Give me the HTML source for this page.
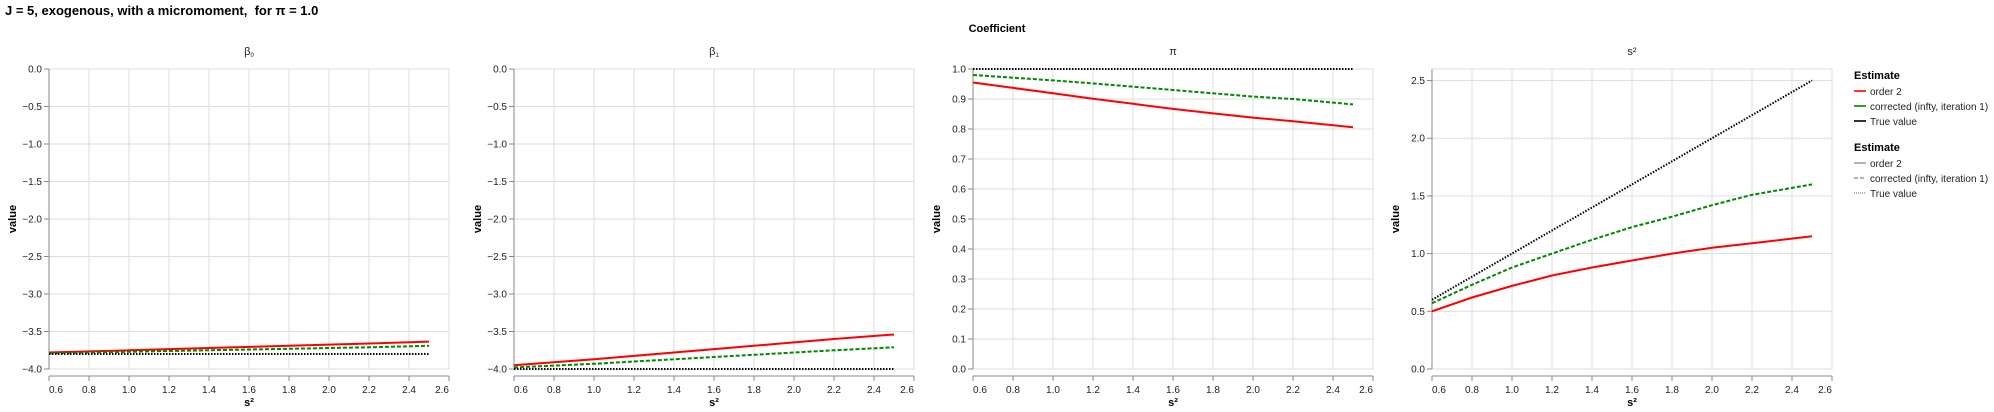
<!DOCTYPE html>
<html><head><meta charset="utf-8"><style>
body{margin:0;background:#fff;}
svg{display:block;font-family:"Liberation Sans",sans-serif;}
</style></head><body>
<svg id="c" width="1994" height="412" xmlns="http://www.w3.org/2000/svg">
<text x="5" y="15" font-size="13" font-weight="bold">J = 5, exogenous, with a micromoment,&#160; for π = 1.0</text>
<text x="997" y="32" font-size="11" font-weight="bold" text-anchor="middle">Coefficient</text>
<g id="legend">
<text x="1854" y="79" font-size="11" font-weight="bold">Estimate</text>
<line x1="1854" x2="1866" y1="91" y2="91" stroke="#f33" stroke-width="2"/>
<text x="1870" y="95" font-size="10" fill="#222">order 2</text>
<line x1="1854" x2="1866" y1="106" y2="106" stroke="#393" stroke-width="2"/>
<text x="1870" y="110" font-size="10" fill="#222">corrected (infty, iteration 1)</text>
<line x1="1854" x2="1866" y1="121" y2="121" stroke="#333" stroke-width="2"/>
<text x="1870" y="125" font-size="10" fill="#222">True value</text>
<text x="1854" y="151" font-size="11" font-weight="bold">Estimate</text>
<line x1="1854" x2="1866" y1="163" y2="163" stroke="#999" stroke-width="1.5"/>
<text x="1870" y="167" font-size="10" fill="#222">order 2</text>
<line x1="1854" x2="1866" y1="178" y2="178" stroke="#999" stroke-width="1.5" stroke-dasharray="4,2"/>
<text x="1870" y="182" font-size="10" fill="#222">corrected (infty, iteration 1)</text>
<line x1="1854" x2="1866" y1="193" y2="193" stroke="#999" stroke-width="1.5" stroke-dasharray="1,1"/>
<text x="1870" y="197" font-size="10" fill="#222">True value</text>
</g>
</svg>
<script>
const xs = [0.6,0.8,1.0,1.2,1.4,1.6,1.8,2.0,2.2,2.5];
const b0Order2 = [-3.78,-3.765,-3.75,-3.735,-3.72,-3.705,-3.69,-3.675,-3.66,-3.635];
const b0Corr = [-3.79,-3.78,-3.77,-3.76,-3.75,-3.74,-3.73,-3.72,-3.71,-3.69];
const b0True = [-3.8,-3.8,-3.8,-3.8,-3.8,-3.8,-3.8,-3.8,-3.8,-3.8];
const b1Order2 = [-3.95,-3.91,-3.87,-3.825,-3.78,-3.735,-3.69,-3.645,-3.6,-3.54];
const b1Corr = [-3.98,-3.955,-3.93,-3.9,-3.87,-3.84,-3.81,-3.78,-3.75,-3.71];
const b1True = [-4,-4,-4,-4,-4,-4,-4,-4,-4,-4];
const piOrder2 = [0.955,0.937,0.919,0.901,0.884,0.867,0.852,0.838,0.826,0.806];
const piCorr = [0.98,0.971,0.962,0.952,0.941,0.93,0.919,0.908,0.9,0.882];
const piTrue = [1,1,1,1,1,1,1,1,1,1];
const s2Order2 = [0.5,0.62,0.72,0.81,0.88,0.94,1.0,1.05,1.09,1.15];
const s2Corr = [0.57,0.73,0.88,1.0,1.12,1.23,1.32,1.42,1.51,1.6];
const s2True = [0.6,0.8,1.0,1.2,1.4,1.6,1.8,2.0,2.2,2.5];
const xTicks = [0.6,0.8,1.0,1.2,1.4,1.6,1.8,2.0,2.2,2.4,2.6];
const betaTicks = [0,-0.5,-1,-1.5,-2,-2.5,-3,-3.5,-4];
const piTicks = [0,0.1,0.2,0.3,0.4,0.5,0.6,0.7,0.8,0.9,1.0];
const s2Ticks = [0,0.5,1.0,1.5,2.0,2.5];

const NS='http://www.w3.org/2000/svg';
const svg=document.getElementById('c');
function mk(tag,attrs,parent){const e=document.createElementNS(NS,tag);for(const k in attrs)e.setAttribute(k,attrs[k]);(parent||svg).appendChild(e);return e;}
const panels=[
 {key:'beta0',title:'β',sub:'0',x0:49,dom:[-4,0],ticks:betaTicks,dec:1,series:[b0Order2,b0Corr,b0True]},
 {key:'beta1',title:'β',sub:'1',x0:514,dom:[-4,0],ticks:betaTicks,dec:1,series:[b1Order2,b1Corr,b1True]},
 {key:'pi',title:'π',sub:'',x0:973,dom:[0,1],ticks:piTicks,dec:1,series:[piOrder2,piCorr,piTrue]},
 {key:'s2',title:'s²',sub:'',x0:1432,dom:[0,2.6],ticks:s2Ticks,dec:1,series:[s2Order2,s2Corr,s2True]}
];
const W=400,Y0=69,H=300;
const styles=[{c:'#f00',d:'',w:2},{c:'#080',d:'4,2',w:2},{c:'#000',d:'1.5,1.5',w:2}];
const snames=['order2','corrected','true-value'];
panels.forEach(p=>{
 const g=mk('g',{});
 
 
 const xf=v=>p.x0+(v-0.6)/2.0*W;
 const yf=v=>Y0+H-(v-p.dom[0])/(p.dom[1]-p.dom[0])*H;
 xTicks.forEach(t=>{const l=mk('line',{x1:xf(t),x2:xf(t),y1:Y0,y2:Y0+H,stroke:'#ddd'},g);
  });
 p.ticks.forEach(t=>{const l=mk('line',{x1:p.x0,x2:p.x0+W,y1:yf(t),y2:yf(t),stroke:'#ddd'},g);
  });
 const fr=mk('rect',{x:p.x0,y:Y0,width:W,height:H,fill:'none',stroke:'#ddd'},g);
 
 const ya=mk('line',{x1:p.x0,x2:p.x0,y1:Y0,y2:Y0+H,stroke:'#888'},g);
 
 p.ticks.forEach(t=>{
  mk('line',{x1:p.x0-5,x2:p.x0,y1:yf(t),y2:yf(t),stroke:'#888'},g);
  const tx=mk('text',{x:p.x0-7,y:yf(t)+3.5,'font-size':10,'text-anchor':'end',fill:'#222'},g);
  tx.textContent=(t<0?'−':'')+Math.abs(t).toFixed(p.dec);
  
 });
 const yt=mk('text',{x:0,y:0,'font-size':11,'font-weight':'bold','text-anchor':'middle',transform:`translate(${p.x0-33},219) rotate(-90)`},g);
 yt.textContent='value';
 const xa=mk('line',{x1:p.x0,x2:p.x0+W,y1:376,y2:376,stroke:'#888'},g);
 
 xTicks.forEach((t,i)=>{
  mk('line',{x1:xf(t),x2:xf(t),y1:376,y2:381,stroke:'#888'},g);
  const anc=i==0?'start':(i==xTicks.length-1?'end':'middle');
  const tx=mk('text',{x:xf(t),y:393,'font-size':10,'text-anchor':anc,fill:'#222'},g);
  tx.textContent=t.toFixed(1);
  
 });
 const xt=mk('text',{x:p.x0+W/2,y:406,'font-size':11,'font-weight':'bold','text-anchor':'middle'},g);
 xt.textContent='s²';
 const tt=mk('text',{x:p.x0+W/2,y:55,'font-size':11,'text-anchor':'middle',fill:'#222'},g);
 tt.textContent=p.title;
 if(p.sub){const ts=mk('tspan',{'font-size':6,dy:2},tt);ts.textContent=p.sub;}
 
 p.series.forEach((s,si)=>{
  const st=styles[si];
  const d=s.map((v,i)=>(i?'L':'M')+xf(xs[i]).toFixed(1)+','+yf(v).toFixed(1)).join('');
  const path=mk('path',{d:d,fill:'none',stroke:st.c,'stroke-width':st.w,'stroke-dasharray':st.d},g);
  
  
 });
});
svg.appendChild(document.getElementById('legend'));
</script>
</body></html>
